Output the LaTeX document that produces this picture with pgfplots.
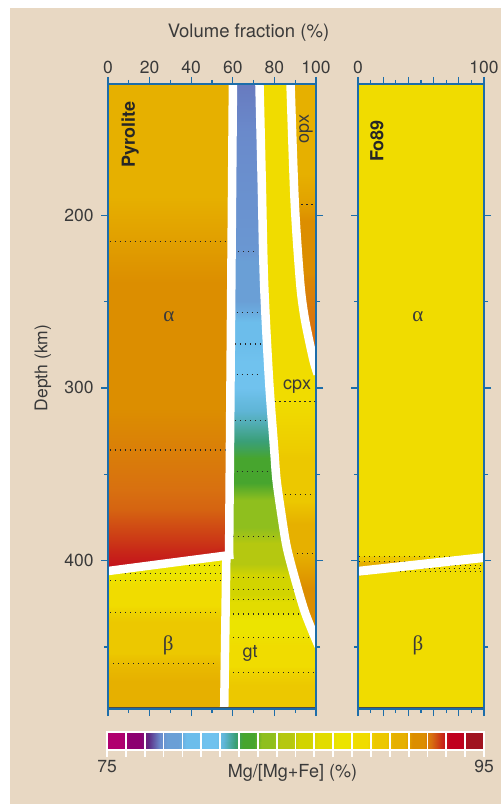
\documentclass[border=0pt]{standalone}
\usepackage{pgfplots}
\pgfplotsset{compat=1.18}
\usepgfplotslibrary{patchplots}
\usepackage{fontspec}
\setmainfont{TeX Gyre Heros}
\newfontfamily\greekfont{Liberation Serif}
\definecolor{bg}{HTML}{E8D8C3}
\definecolor{axblue}{HTML}{1C6DAA}
\definecolor{txt}{HTML}{3A3A3A}
\tikzset{
  iso/.style={black!85, line width=1.1bp, dash pattern=on 1.1bp off 3.9bp},
  wl/.style={white, line width=8.5bp, line cap=butt},
  lab/.style={font=\fontsize{18bp}{20bp}\selectfont, text=txt},
}
\pgfplotsset{
  colormap={mg}{
    rgb255(0pt)=(176,0,110) rgb255(8pt)=(176,0,110)
    rgb255(12pt)=(140,0,112) rgb255(18pt)=(140,0,112)
    rgb255(22pt)=(92,44,132) rgb255(28pt)=(106,138,203)
    rgb255(32pt)=(106,159,214) rgb255(38pt)=(106,159,214)
    rgb255(42pt)=(108,189,235) rgb255(48pt)=(108,189,235)
    rgb255(52pt)=(112,194,238) rgb255(58pt)=(112,194,238)
    rgb255(62pt)=(95,181,214) rgb255(68pt)=(58,159,120)
    rgb255(72pt)=(71,165,46) rgb255(78pt)=(71,165,46)
    rgb255(82pt)=(143,191,30) rgb255(88pt)=(143,191,30)
    rgb255(92pt)=(181,200,16) rgb255(98pt)=(181,200,16)
    rgb255(102pt)=(210,212,0) rgb255(108pt)=(210,212,0)
    rgb255(112pt)=(226,220,0) rgb255(118pt)=(226,220,0)
    rgb255(122pt)=(236,228,0) rgb255(128pt)=(236,228,0)
    rgb255(132pt)=(240,220,0) rgb255(138pt)=(240,220,0)
    rgb255(142pt)=(236,200,0) rgb255(148pt)=(236,200,0)
    rgb255(152pt)=(230,176,0) rgb255(158pt)=(230,176,0)
    rgb255(162pt)=(220,142,0) rgb255(168pt)=(220,142,0)
    rgb255(172pt)=(216,112,16) rgb255(178pt)=(200,40,24)
    rgb255(182pt)=(192,0,30) rgb255(188pt)=(192,0,30)
    rgb255(192pt)=(160,20,32) rgb255(200pt)=(160,20,32)
  },
  panel/.style={
    scale only axis, height=625bp,
    ymin=124, ymax=486, y dir=reverse, xmin=0, xmax=100,
    axis on top, colormap name=mg, point meta min=75, point meta max=95,
    axis line style={axblue, line width=1.8bp},
    tick style={axblue, line width=1.3bp},
    tick align=outside, major tick length=7bp, minor tick length=4bp,
    xtick={0,20,...,100}, minor xtick={10,30,...,90},
    xtick pos=both, xticklabel pos=upper,
    ytick={200,300,400}, minor ytick={250,350,450},
    ytick pos=both, yticklabel pos=left,
    tick label style={font=\fontsize{17.5bp}{20bp}\selectfont, text=txt},
    yticklabel style={xshift=-4bp},
    /pgf/number format/assume math mode=true,
  },
}
\begin{document}
\begin{tikzpicture}
\path[use as bounding box] (0,0) rectangle (501bp,804bp);
\fill[white] (0,0) rectangle (501bp,804bp);
\fill[bg] (10bp,0) rectangle (501bp,796bp);

% ---------------- Pyrolite ----------------
\begin{axis}[panel, at={(108bp,95bp)}, anchor=south west, width=208bp]
% olivine (alpha)
\addplot[patch, patch type=rectangle, shader=interp, point meta=explicit] table[meta=c] {
x y c
0 124 90.3
61 124 90.3
61 215 91.0
0 215 91.0
0 215 91.0
61 215 91.0
61 336 92.0
0 336 92.0
0 336 92.0
61 336 92.0
61 370 92.3
0 370 92.3
0 370 92.3
61 370 92.3
61 390 92.7
0 390 92.7
0 390 92.7
61 390 92.7
61 397 92.95
0 407 93.1
};
% beta
\addplot[patch, patch type=rectangle, shader=interp, point meta=explicit] table[meta=c] {
x y c
0 406 87.2
58 397 87.2
58 411.5 88.0
0 411.5 88.0
0 411.5 88.0
58 411.5 88.0
58 430 89.0
0 430 89.0
0 430 89.0
58 430 89.0
58 459.5 90.0
0 459.5 90.0
0 459.5 90.0
58 459.5 90.0
58 486 90.5
0 486 90.5
};
% garnet
\addplot[patch, patch type=rectangle, shader=interp, point meta=explicit] table[meta=c] {
x y c
60.0 124 77.7
100 124 77.7
100 221 78.05
59.4 221 78.05
59.4 221 78.05
100 221 78.05
100 257 79.0
59.1 257 79.0
59.1 257 79.0
100 257 79.0
100 280 80.0
59.0 280 80.0
59.0 280 80.0
100 280 80.0
100 300 80.8
58.8 300 80.8
58.8 300 80.8
100 300 80.8
100 320 81.4
58.7 320 81.4
58.7 320 81.4
100 320 81.4
100 335 81.95
58.6 335 81.95
58.6 335 81.95
100 335 81.95
100 350 82.6
58.5 350 82.6
58.5 350 82.6
100 350 82.6
100 370 83.4
58.4 370 83.4
58.4 370 83.4
100 370 83.4
100 386 84.0
58.3 386 84.0
58.3 386 84.0
100 386 84.0
100 400 84.7
56.85 400 84.7
56.85 400 84.7
100 400 84.7
100 410 85.3
56.75 410 85.3
56.75 410 85.3
100 410 85.3
100 417 85.6
56.65 417 85.6
56.65 417 85.6
100 417 85.6
100 422.5 86.0
56.6 422.5 86.0
56.6 422.5 86.0
100 422.5 86.0
100 431 87.0
56.5 431 87.0
56.5 431 87.0
100 431 87.0
100 445 88.0
56.3 445 88.0
56.3 445 88.0
100 445 88.0
100 465 89.0
56.1 465 89.0
56.1 465 89.0
100 465 89.0
100 486 89.6
55.8 486 89.6
};
% clinopyroxene
\addplot[patch, patch type=rectangle, shader=interp, point meta=explicit] table[meta=c] {
x y c
72.8 124 88.5
100 124 88.5
100 238 88.6
75.0 238 88.6
75.0 238 88.6
100 238 88.6
100 295 88.65
77.4 295 88.65
77.4 295 88.65
100 295 88.65
100 308 88.8
78.2 308 88.8
78.2 308 88.8
100 308 88.8
100 334 89.1
79.8 334 89.1
79.8 334 89.1
100 334 89.1
100 353 89.4
81.0 353 89.4
81.0 353 89.4
100 353 89.4
100 362 89.7
82.0 362 89.7
82.0 362 89.7
100 362 89.7
100 372 90.0
83.2 372 90.0
83.2 372 90.0
100 372 90.0
100 392 90.6
85.9 392 90.6
85.9 392 90.6
100 392 90.6
100 396 90.8
86.7 396 90.8
86.7 396 90.8
100 396 90.8
100 411 91.1
90.0 411 91.1
90.0 411 91.1
100 411 91.1
100 430 91.5
94.7 430 91.5
94.7 430 91.5
100 430 91.5
100 446 91.8
100 446 91.8
};
% orthopyroxene
\addplot[patch, patch type=rectangle, shader=interp, point meta=explicit] table[meta=c] {
x y c
87.7 124 90.3
100 124 90.3
100 191 90.95
89.7 191 90.95
89.7 191 90.95
100 191 90.95
100 238 91.9
92.3 238 91.9
92.3 238 91.9
100 238 91.9
100 257 92.1
94.2 257 92.1
94.2 257 92.1
100 257 92.1
100 272 92.2
96.6 272 92.2
96.6 272 92.2
100 272 92.2
100 289 92.3
100 289 92.3
};
% isopleths
\addplot[iso] coordinates {(0.8,215.4)(57,215.4)};
\addplot[iso] coordinates {(0.8,336)(57,336)};
\addplot[iso] coordinates {(62.5,221)(71.5,221)};
\addplot[iso] coordinates {(61.8,256.6)(72.3,256.6)};
\addplot[iso] coordinates {(61,274.6)(73.9,274.6)};
\addplot[iso] coordinates {(61.8,292.5)(73,292.5)};
\addplot[iso] coordinates {(61,319)(76.3,319)};
\addplot[iso] coordinates {(61.8,348.6)(77.9,348.6)};
\addplot[iso] coordinates {(60,386)(81,386)};
\addplot[iso] coordinates {(80,308)(99.5,308)};
\addplot[iso] coordinates {(85,362)(99.5,362)};
\addplot[iso] coordinates {(91,396)(99.5,396)};
\addplot[iso] coordinates {(93,194)(99.5,194)};
\addplot[iso] coordinates {(39,403)(55,403)};
\addplot[iso] coordinates {(8,407.5)(55,407.5)};
\addplot[iso] coordinates {(1,411.5)(55,411.5)};
\addplot[iso] coordinates {(1,430)(53,430)};
\addplot[iso] coordinates {(2.5,459.5)(52,459.5)};
\addplot[iso] coordinates {(60,410)(86,410)};
\addplot[iso] coordinates {(60,417)(89,417)};
\addplot[iso] coordinates {(60,422.5)(90,422.5)};
\addplot[iso] coordinates {(60,431)(93,431)};
\addplot[iso] coordinates {(60,444.5)(99.5,444.5)};
\addplot[iso] coordinates {(60,464.7)(99.5,464.7)};
% phase boundaries
\addplot[wl] coordinates {(60.1,118)(58.2,398.5)};
\addplot[wl] coordinates {(-2,406.4)(60.2,396.6)};
\addplot[wl] coordinates {(56.9,396.8)(55.8,492)};
\addplot[wl, smooth] coordinates {(72.7,118)(73.9,180)(75,238)(77.4,295)(79.8,334)(81,353)(83.2,372)(85.9,392)(90,411)(94.7,430)(100,446)(101.5,450)};
\addplot[wl, smooth] coordinates {(87.6,118)(89.7,191)(92.3,238)(94.2,257)(96.6,272)(99,285)(100.8,292)};
\addplot[black!70, line width=1.2bp] coordinates {(0,485.2)(100,485.2)};
% labels
\node[rotate=90, font=\bfseries\fontsize{18bp}{20bp}\selectfont, text=black!85] at (axis cs:10.6,153) {Pyrolite};
\node[lab, rotate=90] at (axis cs:95.2,150) {opx};
\node[lab] at (axis cs:90.9,299) {cpx};
\node[lab] at (axis cs:68.3,454) {gt};
\node[lab, font=\greekfont\fontsize{21bp}{22bp}\selectfont] at (axis cs:29.3,259) {α};
\node[lab, font=\greekfont\fontsize{21bp}{22bp}\selectfont] at (axis cs:29,449) {β};
\end{axis}

% ---------------- Fo89 ----------------
\begin{axis}[panel, at={(358bp,95bp)}, anchor=south west, width=126bp,
  xticklabels={0,,,,,100}, yticklabels={}]
\addplot[patch, patch type=rectangle, shader=interp, point meta=explicit] table[meta=c] {
x y c
0 124 88.6
100 124 88.6
100 486 88.6
0 486 88.6
};
\addplot[patch, patch type=rectangle, shader=interp, point meta=explicit] table[meta=c] {
x y c
0 396 88.6
65 396 88.6
65 399.5 88.6
0 404.5 91.4
0 406.5 92.6
35 403.5 88.6
35 407.5 88.6
0 409.5 88.6
};
\addplot[iso] coordinates {(1,397.7)(74,397.7)};
\addplot[iso] coordinates {(1,400.6)(60,400.6)};
\addplot[iso] coordinates {(69,403)(99,403)};
\addplot[iso] coordinates {(52,404.6)(99,404.6)};
\addplot[iso] coordinates {(33,406.4)(99,406.4)};
\addplot[wl, line width=9bp] coordinates {(-2,406.4)(102,398.1)};
\addplot[black!70, line width=1.2bp] coordinates {(0,485.2)(100,485.2)};
\node[rotate=90, font=\bfseries\fontsize{18bp}{20bp}\selectfont, text=black!85] at (axis cs:15,157) {Fo89};
\node[lab, font=\greekfont\fontsize{21bp}{22bp}\selectfont] at (axis cs:47.6,259) {α};
\node[lab, font=\greekfont\fontsize{21bp}{22bp}\selectfont] at (axis cs:47.6,449) {β};
\end{axis}

% ---------------- colour bar ----------------
\begin{axis}[at={(107bp,54bp)}, anchor=south west, scale only axis,
  width=377bp, height=18bp, xmin=75, xmax=95, ymin=0, ymax=1,
  axis on top, colormap name=mg, point meta min=75, point meta max=95,
  axis line style={white, line width=1.8bp},
  xtick={75,95}, minor xtick={76,...,94}, xtick pos=lower, ytick=\empty,
  tick align=outside, major tick length=7bp, minor tick length=7bp,
  tick style={white, line width=1.8bp},
  xmajorgrids, xminorgrids,
  major grid style={white, line width=1.8bp},
  minor grid style={white, line width=1.8bp},
  tick label style={font=\fontsize{17.5bp}{20bp}\selectfont, text=txt},
  /pgf/number format/assume math mode=true]
\addplot[patch, patch type=rectangle, shader=interp, point meta=explicit] table[meta=c] {
x y c
75 0 75
95 0 95
95 1 95
75 1 75
};
\end{axis}

\node[lab, font=\fontsize{18.5bp}{20bp}\selectfont] at (248.5bp,771bp) {Volume fraction (\%)};
\node[lab, rotate=90, font=\fontsize{17.5bp}{20bp}\selectfont] at (43bp,436bp) {Depth (km)};
\node[lab, font=\fontsize{18bp}{20bp}\selectfont] at (292.5bp,31bp) {Mg/[Mg+Fe] (\%)};
\end{tikzpicture}
\end{document}
